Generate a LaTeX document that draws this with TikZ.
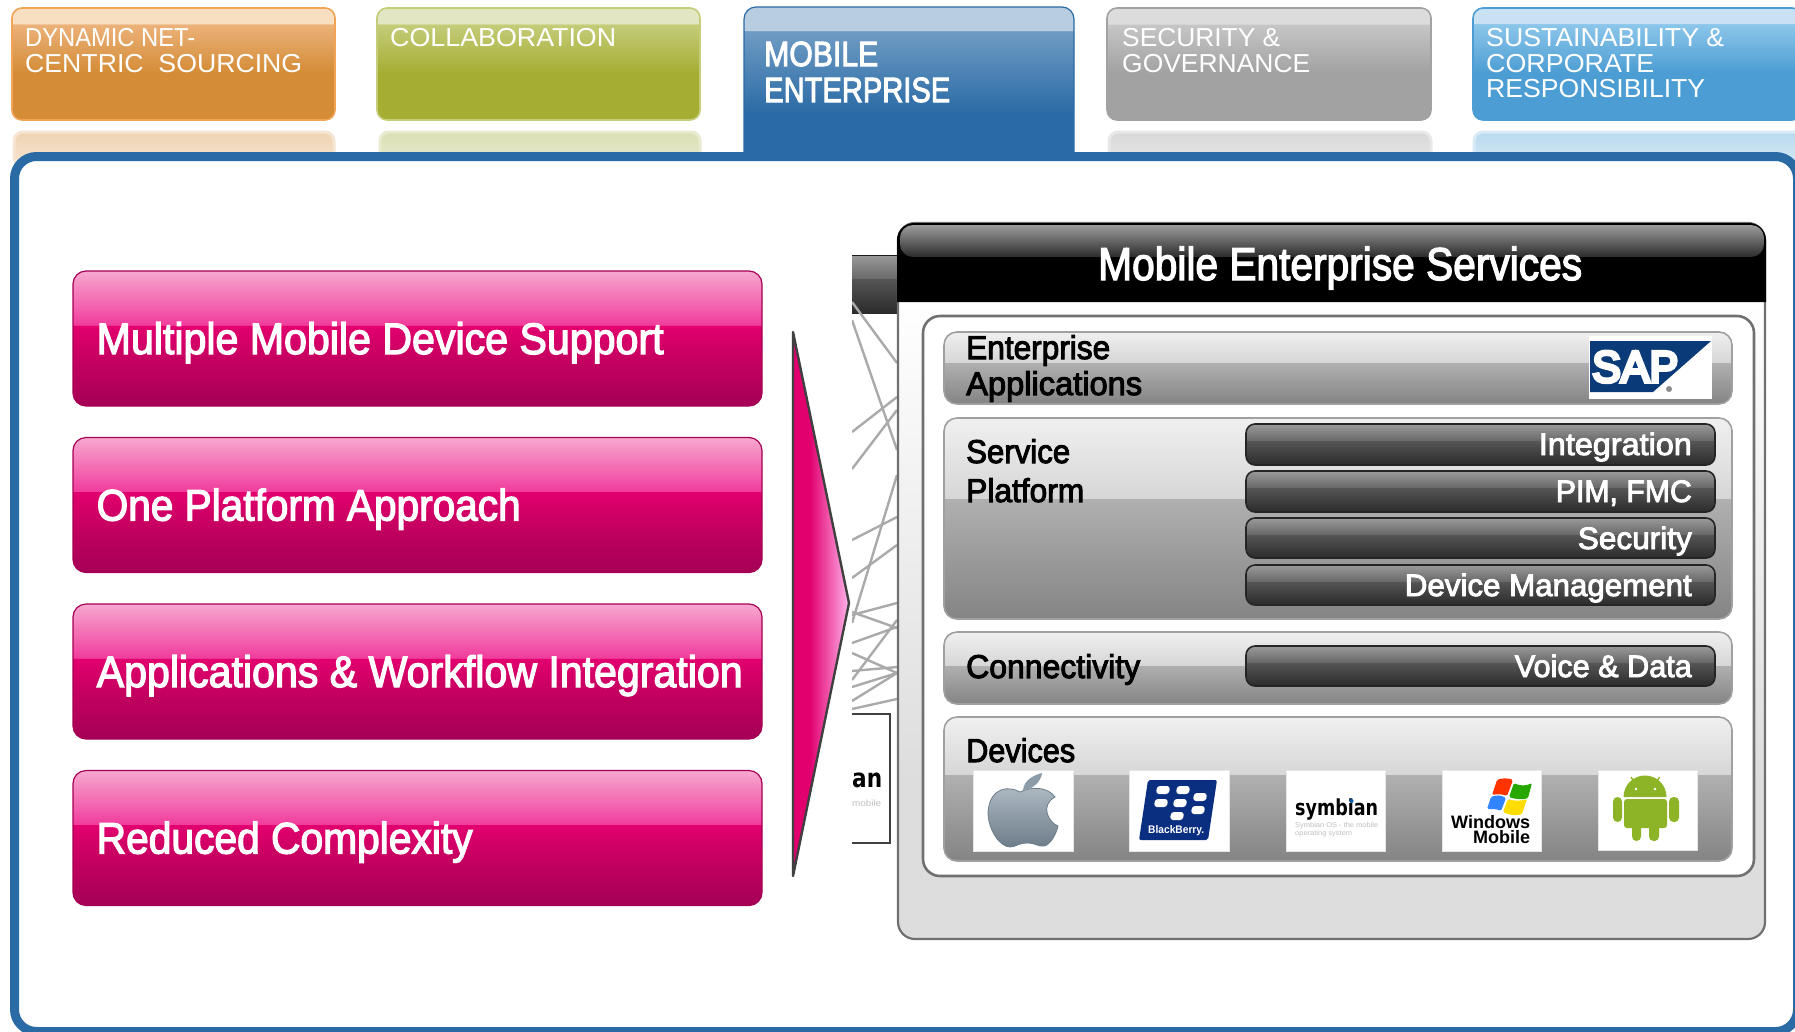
\documentclass[tikz,border=0pt]{standalone}
\usepackage{graphicx}
\usepackage{fontspec}
\setmainfont{Liberation Sans}
\newfontfamily\tg[FakeBold=3]{Liberation Sans}
\newfontfamily\sapf[FakeBold=8]{Liberation Sans}
\newfontfamily\symf{DejaVu Sans}
\newcommand\fs[1]{\fontsize{#1}{#1}\selectfont}
\newcommand\fw[2]{\resizebox{#1pt}{\height}{#2}}
\definecolor{oA}{HTML}{D48C36}\definecolor{oB}{HTML}{ECB27A}\definecolor{oC}{HTML}{F9DFC2}
\definecolor{gA}{HTML}{A5AE33}\definecolor{gB}{HTML}{C5CC7A}\definecolor{gC}{HTML}{E3E6C2}
\definecolor{bA}{HTML}{2A6AA5}\definecolor{bB}{HTML}{6F9CC4}\definecolor{bC}{HTML}{B9CDE0}
\definecolor{yA}{HTML}{A2A2A2}\definecolor{yB}{HTML}{C6C6C6}\definecolor{yC}{HTML}{DCDCDC}
\definecolor{sA}{HTML}{4C9DD3}\definecolor{sB}{HTML}{8CC6EA}\definecolor{sC}{HTML}{C8E2F3}
\definecolor{pA}{HTML}{A50055}\definecolor{pB}{HTML}{C0005E}\definecolor{pC}{HTML}{E2006E}\definecolor{pD}{HTML}{F03C9C}\definecolor{pE}{HTML}{F468B2}\definecolor{pF}{HTML}{F47CBA}\definecolor{pG}{HTML}{F7A8D0}
\definecolor{dA}{HTML}{2B2B2B}\definecolor{dB}{HTML}{565656}\definecolor{dC}{HTML}{6A6A6A}\definecolor{dD}{HTML}{9A9A9A}\definecolor{dE}{HTML}{9C9C9C}
\definecolor{nA}{HTML}{DDDDDD}\definecolor{nB}{HTML}{FFFFFF}
\definecolor{mA}{HTML}{848484}\definecolor{mB}{HTML}{B0B0B0}\definecolor{mC}{HTML}{D6D6D6}\definecolor{mD}{HTML}{F0F0F0}
\definecolor{tA}{HTML}{E2006E}\definecolor{tB}{HTML}{FFB4EC}
\definecolor{frameblue}{HTML}{2A6AA5}\definecolor{edgegray}{HTML}{707070}\definecolor{bandedge}{HTML}{A0A0A0}
\definecolor{sapblue}{HTML}{0A3A78}\definecolor{bbblue}{HTML}{0A2F80}\definecolor{droid}{HTML}{8DB326}
\definecolor{tilegray}{HTML}{E6E6E6}\definecolor{apple}{HTML}{8B9BA8}\definecolor{apple2}{HTML}{6D7D8A}
\definecolor{rOa}{HTML}{EFD3B3}\definecolor{rOb}{HTML}{F6E5D2}
\definecolor{rGa}{HTML}{DADFB5}\definecolor{rGb}{HTML}{E8EBCF}
\definecolor{rYa}{HTML}{D8D8D8}\definecolor{rYb}{HTML}{E8E8E8}
\definecolor{rSa}{HTML}{B8DAEE}\definecolor{rSb}{HTML}{D6EAF7}
% shadings: the bounding box of a path covers 25bp to 75bp of a shading
\pgfdeclareverticalshading{tabOrange}{100bp}{color(0bp)=(oA);color(46bp)=(oA);color(67.85bp)=(oB);color(67.9bp)=(oC);color(100bp)=(oC)}
\pgfdeclareverticalshading{tabGreen}{100bp}{color(0bp)=(gA);color(46bp)=(gA);color(67.85bp)=(gB);color(67.9bp)=(gC);color(100bp)=(gC)}
\pgfdeclareverticalshading{tabBlue}{100bp}{color(0bp)=(bA);color(40bp)=(bA);color(67.2bp)=(bB);color(67.3bp)=(bC);color(100bp)=(bC)}
\pgfdeclareverticalshading{tabGray}{100bp}{color(0bp)=(yA);color(46bp)=(yA);color(67.85bp)=(yB);color(67.9bp)=(yC);color(100bp)=(yC)}
\pgfdeclareverticalshading{tabSky}{100bp}{color(0bp)=(sA);color(46bp)=(sA);color(67.85bp)=(sB);color(67.9bp)=(sC);color(100bp)=(sC)}
\pgfdeclareverticalshading{pinkGloss}{100bp}{color(0bp)=(pA);color(25bp)=(pA);color(40bp)=(pB);color(54.9bp)=(pC);color(55bp)=(pD);color(63bp)=(pE);color(67bp)=(pF);color(75bp)=(pG);color(100bp)=(pG)}
\pgfdeclareverticalshading{darkBar}{100bp}{color(0bp)=(dA);color(25bp)=(dA);color(54.7bp)=(dB);color(54.9bp)=(dC);color(75bp)=(dD);color(100bp)=(dD)}
\pgfdeclareverticalshading{headGloss}{100bp}{color(0bp)=(dA);color(25bp)=(dA);color(75bp)=(dE);color(100bp)=(dE)}
\pgfdeclareverticalshading{panelFill}{100bp}{color(0bp)=(nA);color(36bp)=(nA);color(69.5bp)=(nB);color(100bp)=(nB)}
\pgfdeclareverticalshading{bandOne}{100bp}{color(0bp)=(mA);color(25bp)=(mA);color(53.7bp)=(mB);color(53.8bp)=(mC);color(75bp)=(mD);color(100bp)=(mD)}
\pgfdeclareverticalshading{bandTwo}{100bp}{color(0bp)=(mA);color(25bp)=(mA);color(54.9bp)=(mB);color(55bp)=(mC);color(75bp)=(mD);color(100bp)=(mD)}
\pgfdeclareverticalshading{bandThree}{100bp}{color(0bp)=(mA);color(25bp)=(mA);color(51.7bp)=(mB);color(51.8bp)=(mC);color(75bp)=(mD);color(100bp)=(mD)}
\pgfdeclarehorizontalshading{pinkSide}{100bp}{color(0bp)=(tA);color(40bp)=(tA);color(75bp)=(tB);color(100bp)=(tB)}
\tikzset{
 lab/.style={inner sep=0pt,anchor=base west},
 labe/.style={inner sep=0pt,anchor=base east},
 tabt/.style={lab,text=white,font=\fs{26}},
 tabm/.style={lab,text=white,font=\tg\fs{35}},
 pinkt/.style={lab,text=white,font=\tg\fs{44}},
 blackt/.style={lab,text=black,font=\tg\fs{33}},
 bart/.style={labe,text=white,font=\tg\fs{31}},
 pinkbox/.style={shading=pinkGloss,draw=pA,line width=1.2pt,rounded corners=13pt},
 darkbox/.style={shading=darkBar,draw=dA!85!black,line width=1.6pt,rounded corners=9pt},
 tile/.style={fill=white,draw=tilegray,line width=1pt},
 hidden/.style={draw=bandedge!90,line width=2.4pt},
 refl/.style={rounded corners=9pt,line width=3pt},
}
\begin{document}
\begin{tikzpicture}[x=1pt,y=-1pt]
\useasboundingbox (0,0) rectangle (1795,1031);
\clip (0,0) rectangle (1795,1031);
% reflections
\path[refl,draw=rOb,top color=rOa,bottom color=rOb] (14,132) rectangle (334,166);
\path[refl,draw=rGb,top color=rGa,bottom color=rGb] (380,132) rectangle (700,166);
\path[refl,draw=rYb,top color=rYa,bottom color=rYb] (1109,132) rectangle (1431,166);
\path[refl,draw=rSb,top color=rSa,bottom color=rSb] (1474,132) rectangle (1806,166);
% tabs
\path[shading=tabOrange,draw=oB!70!orange,line width=1.6pt,rounded corners=10pt] (12,8) rectangle (335,120);
\path[shading=tabGreen,draw=gB,line width=1.6pt,rounded corners=10pt] (377,8) rectangle (700,120);
\path[shading=tabBlue,rounded corners=12pt] (744,160) -- (744,7) -- (1074,7) -- (1074,160);
\draw[frameblue,line width=1.2pt,rounded corners=12pt] (744,160) -- (744,7) -- (1074,7) -- (1074,160);
\path[shading=tabGray,draw=yA,line width=1.6pt,rounded corners=10pt] (1107,8) rectangle (1431,120);
\path[shading=tabSky,draw=sA,line width=1.6pt,rounded corners=10pt] (1473,8) rectangle (1802,120);
\node[tabt] (t1a) at (25,46.5) {\fw{170}{DYNAMIC NET-}};
\node[tabt] (t1b) at (25,72) {\fw{277}{CENTRIC\ \ SOURCING}};
\node[tabt] (t2a) at (390,46.5) {\fw{226}{COLLABORATION}};
\node[tabm] (t3a) at (764,66) {\fw{114}{MOBILE}};
\node[tabm] (t3b) at (764,102) {\fw{186}{ENTERPRISE}};
\node[tabt] (t4a) at (1122,46.5) {\fw{158}{SECURITY \&}};
\node[tabt] (t4b) at (1122,72) {\fw{188}{GOVERNANCE}};
\node[tabt] (t5a) at (1486,46.5) {\fw{238}{SUSTAINABILITY \&}};
\node[tabt] (t5b) at (1486,72) {\fw{168}{CORPORATE}};
\node[tabt] (t5c) at (1486,97) {\fw{219}{RESPONSIBILITY}};
% main frame
\draw[frameblue,line width=9pt,fill=white,rounded corners=22pt] (14.5,156.5) rectangle (1797.5,1031.5);
% pink boxes
\path[pinkbox] (73,271) rectangle (762,406);
\path[pinkbox] (73,437.5) rectangle (762,572.5);
\path[pinkbox] (73,604) rectangle (762,739);
\path[pinkbox] (73,770.5) rectangle (762,905.5);
\node[pinkt] (p1) at (96.5,354) {\fw{567}{Multiple Mobile Device Support}};
\node[pinkt] (p2) at (96.5,520.5) {\fw{424}{One Platform Approach}};
\node[pinkt] (p3) at (96.5,687) {\fw{646}{Applications \& Workflow Integration}};
\node[pinkt] (p4) at (96.5,853.5) {\fw{376}{Reduced Complexity}};
% pink triangle
\path[shading=pinkSide,draw=black!75,line width=2.4pt,line join=round] (793,332) -- (849,603) -- (793,876) -- cycle;
% hidden slide behind the panel
\path[shading=darkBar] (852,255) rectangle (900,313);
\draw[dA!60!black,line width=1pt] (852,255) -- (900,255);
\begin{scope}
\clip (852,250) rectangle (898,720);
\draw[hidden] (852,302) -- (897,363);
\draw[hidden] (852,320) -- (897,450);
\draw[hidden] (852,432) -- (897,397);
\draw[hidden] (852,469) -- (897,410);
\draw[hidden] (852,540) -- (897,517);
\draw[hidden] (852,578) -- (897,545);
\draw[hidden] (897,475) -- (852,623);
\draw[hidden] (852,615) -- (897,603);
\draw[hidden] (852,612) -- (897,628);
\draw[hidden] (852,643) -- (897,627);
\draw[hidden] (852,680) -- (897,620);
\draw[hidden] (852,653) -- (897,673);
\draw[hidden] (852,671) -- (897,667);
\draw[hidden] (852,687) -- (897,673);
\draw[hidden] (852,701) -- (897,673);
\draw[hidden] (852,709) -- (897,699);
\end{scope}
\draw[black!75,line width=1.6pt,fill=white] (852,714) -- (890,714) -- (890,843) -- (852,843);
\node[lab,font=\symf\bfseries\fs{26}] (hidan) at (852,787) {\fw{30}{an}};
\node[lab,font=\fs{9},text=black!25] (hidmob) at (852,806) {\fw{29}{mobile}};
% panel
\path[shading=panelFill,draw=edgegray,line width=2.2pt,rounded corners=17pt] (898,223) rectangle (1765,939);
\fill[black,rounded corners=17pt] (897,302) -- (897,223) -- (1766,223) -- (1766,302);
\path[shading=headGloss,rounded corners=13pt] (900,225) rectangle (1764,257);
\node[lab,text=white,font=\tg\fs{46}] (title) at (1098,280) {\fw{484}{Mobile Enterprise Services}};
% inner white box
\draw[edgegray,line width=2.6pt,fill=white,rounded corners=17pt] (923,316) rectangle (1754,876);
% bands
\path[shading=bandOne,draw=bandedge,line width=1.6pt,rounded corners=13pt] (944,332) rectangle (1732,404);
\path[shading=bandTwo,draw=bandedge,line width=1.6pt,rounded corners=13pt] (944,418) rectangle (1732,619);
\path[shading=bandThree,draw=bandedge,line width=1.6pt,rounded corners=13pt] (944,632) rectangle (1732,704);
\path[shading=bandTwo,draw=bandedge,line width=1.6pt,rounded corners=13pt] (944,717) rectangle (1732,861);
\node[blackt] (e1) at (966,359) {\fw{144}{Enterprise}};
\node[blackt] (e2) at (966,395) {\fw{176}{Applications}};
\node[blackt] (s1) at (966,463) {\fw{104}{Service}};
\node[blackt] (s2) at (966,502) {\fw{118}{Platform}};
\node[blackt] (c1) at (966,678) {\fw{174}{Connectivity}};
\node[blackt] (d1) at (966,762) {\fw{109}{Devices}};
% dark bars
\path[darkbox] (1246,424) rectangle (1715,465);
\path[darkbox] (1246,471) rectangle (1715,512);
\path[darkbox] (1246,518) rectangle (1715,558);
\path[darkbox] (1246,565) rectangle (1715,605);
\path[darkbox] (1246,646) rectangle (1715,686);
\node[bart] (b1) at (1692,455) {\fw{153}{Integration}};
\node[bart] (b2) at (1692,502) {\fw{136}{PIM, FMC}};
\node[bart] (b3) at (1692,549) {\fw{114}{Security}};
\node[bart] (b4) at (1692,596) {\fw{287}{Device Management}};
\node[bart] (b5) at (1692,677) {\fw{177}{Voice \& Data}};
% SAP logo
\fill[white] (1589,336) rectangle (1712,399);
\fill[sapblue] (1590,341) -- (1711,341) -- (1653,392) -- (1590,392) -- cycle;
\node[lab,text=white,font=\sapf\fs{44}] (sap) at (1592,382) {\fw{86}{SAP}};
\fill[black!45] (1669,389) circle (3pt);
% device tiles
\draw[tile] (973,770) rectangle (1073,851);
\draw[tile] (1129,770) rectangle (1229,851);
\draw[tile] (1286,770) rectangle (1385,851);
\draw[tile] (1442,770) rectangle (1541,851);
\draw[tile] (1598,770) rectangle (1697,850);
% apple
\shade[top color=apple!70!white,bottom color=apple2,draw=apple2,line width=.8pt] (1020,792) .. controls (1010,786) and (990,786) .. (988,812) .. controls (988,830) and (1000,847) .. (1010,847) .. controls (1016,847) and (1018,843) .. (1027,843) .. controls (1036,843) and (1038,847) .. (1044,846) .. controls (1050,845) and (1056,835) .. (1058,826) .. controls (1048,822) and (1040,805) .. (1055,797) .. controls (1048,787) and (1032,786) .. cycle;
\fill[apple] (1023,790) .. controls (1024,780) and (1034,775) .. (1042,773) .. controls (1041,782) and (1032,790) .. cycle;
% blackberry
\fill[bbblue,rounded corners=2pt] (1148,780) -- (1217,780) -- (1208,840) -- (1139,840) -- cycle;
\foreach \px/\py in {1163/790,1183/790,1161/803,1180/803,1200/797,1198/810,1177/816}
  \fill[white,rounded corners=3pt] (\px-6,\py-4) -- (\px+7,\py-4) -- (\px+6,\py+4) -- (\px-7,\py+4) -- cycle;
\node[lab,text=white,font=\bfseries\fs{11}] (bbt) at (1148,833) {\fw{56}{BlackBerry.}};
% symbian
\node[lab,font=\symf\bfseries\fs{22}] (sym) at (1295,815) {\fw{83}{symbian}};
\fill[teal!70!blue] (1351.5,801) circle (2pt);
\node[lab,font=\fs{7},text=black!25] (sym2) at (1295,827) {\fw{83}{Symbian OS - the mobile}};
\node[lab,font=\fs{7},text=black!25] (sym3) at (1295,835) {\fw{57}{operating system}};
% windows
\fill[red!60!orange,rounded corners=1.5pt] (1497,780) .. controls (1502,778) and (1508,778) .. (1513,780) -- (1507,796) .. controls (1502,794) and (1497,794) .. (1492,795) -- cycle;
\fill[green!60!black!85!yellow,rounded corners=1.5pt] (1514,783) .. controls (1520,786) and (1526,786) .. (1532,783) -- (1528,798) .. controls (1522,800) and (1515,799) .. (1509,797) -- cycle;
\fill[blue!60!cyan!80!white,rounded corners=1.5pt] (1491,797) .. controls (1496,795) and (1501,795) .. (1506,798) -- (1501,811) .. controls (1497,809) and (1492,809) .. (1487,809) -- cycle;
\fill[yellow!80!orange,rounded corners=1.5pt] (1508,799) .. controls (1514,801) and (1521,801) .. (1527,799) -- (1522,814) .. controls (1516,816) and (1509,815) .. (1503,812) -- cycle;
\node[lab,font=\bfseries\fs{18}] (w1) at (1451,828) {\fw{79}{Windows}};
\node[lab,font=\bfseries\fs{18}] (w2) at (1473,843) {\fw{57}{Mobile}};
% android
\fill[droid] (1623.5,797) arc[start angle=180,end angle=0,radius=21.5pt] -- cycle;
\draw[droid,line width=1.4pt] (1631,777) -- (1636,785) (1659.5,777) -- (1655,785);
\fill[white] (1636,789) circle (1.4pt) (1655,789) circle (1.4pt);
\fill[droid,rounded corners=3pt] (1624,799) rectangle (1667,828);
\fill[droid,rounded corners=4.5pt] (1613,797) rectangle (1622,822);
\fill[droid,rounded corners=4.5pt] (1669,797) rectangle (1679,822);
\fill[droid,rounded corners=4.5pt] (1632,815) rectangle (1641,841);
\fill[droid,rounded corners=4.5pt] (1649,815) rectangle (1659,841);
\end{tikzpicture}
\end{document}
